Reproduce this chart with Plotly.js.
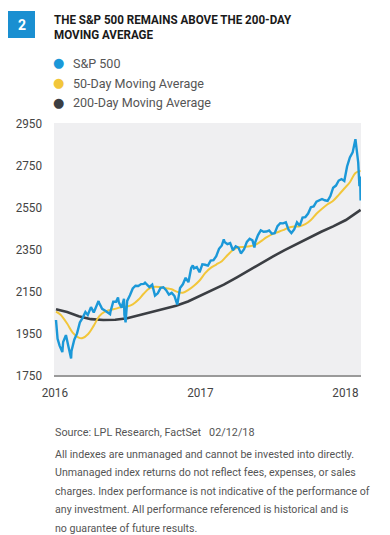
<!DOCTYPE html>
<html><head><meta charset="utf-8">
<script src="https://cdn.plot.ly/plotly-3.0.1.min.js"></script>
<style>html,body{margin:0;padding:0;background:#fff}#chart{width:390px;height:535px}</style>
</head><body><div id="chart"></div>
<script>
// S&P 500 (approximate closes)
const spxDates = ["2016-01-04","2016-01-08","2016-01-13","2016-01-15","2016-01-20","2016-01-22","2016-01-29","2016-02-05","2016-02-11","2016-02-12","2016-02-19","2016-02-26","2016-03-04","2016-03-11","2016-03-18","2016-03-24","2016-04-01","2016-04-08","2016-04-15","2016-04-20","2016-04-22","2016-04-29","2016-05-06","2016-05-13","2016-05-19","2016-05-20","2016-05-27","2016-06-03","2016-06-08","2016-06-10","2016-06-17","2016-06-23","2016-06-24","2016-06-27","2016-07-01","2016-07-08","2016-07-15","2016-07-22","2016-07-29","2016-08-05","2016-08-12","2016-08-15","2016-08-19","2016-08-26","2016-09-02","2016-09-09","2016-09-16","2016-09-23","2016-09-30","2016-10-07","2016-10-14","2016-10-21","2016-10-28","2016-11-04","2016-11-11","2016-11-18","2016-11-25","2016-12-02","2016-12-09","2016-12-13","2016-12-16","2016-12-23","2016-12-30","2017-01-06","2017-01-13","2017-01-20","2017-01-27","2017-02-03","2017-02-10","2017-02-17","2017-02-24","2017-03-01","2017-03-03","2017-03-10","2017-03-17","2017-03-24","2017-03-31","2017-04-07","2017-04-13","2017-04-21","2017-04-28","2017-05-05","2017-05-12","2017-05-17","2017-05-19","2017-05-26","2017-06-02","2017-06-09","2017-06-16","2017-06-23","2017-06-30","2017-07-07","2017-07-14","2017-07-21","2017-07-28","2017-08-04","2017-08-11","2017-08-18","2017-08-25","2017-09-01","2017-09-08","2017-09-15","2017-09-22","2017-09-29","2017-10-06","2017-10-13","2017-10-20","2017-10-27","2017-11-03","2017-11-10","2017-11-17","2017-11-24","2017-12-01","2017-12-08","2017-12-15","2017-12-22","2017-12-29","2018-01-05","2018-01-12","2018-01-19","2018-01-26","2018-02-02","2018-02-05","2018-02-06","2018-02-07","2018-02-08"];
const spxValues = [2012,1922,1890,1880,1859,1907,1940,1880,1829,1865,1918,1948,2000,2022,2050,2036,2073,2048,2081,2102,2092,2065,2057,2047,2040,2052,2099,2099,2119,2096,2071,2113,2037,2001,2103,2130,2162,2175,2174,2183,2184,2190,2184,2169,2180,2128,2139,2165,2168,2154,2133,2141,2126,2085,2164,2182,2213,2192,2260,2272,2258,2264,2239,2277,2275,2271,2295,2297,2316,2351,2367,2396,2383,2373,2378,2344,2363,2356,2329,2349,2384,2399,2391,2357,2382,2416,2439,2432,2433,2438,2423,2425,2459,2473,2472,2477,2441,2426,2443,2477,2461,2500,2502,2519,2549,2553,2575,2581,2588,2582,2579,2602,2642,2652,2676,2683,2674,2743,2786,2810,2873,2762,2649,2695,2682,2581];

// 50-Day Moving Average
const ma50Dates = ["2016-01-04","2016-01-15","2016-02-01","2016-02-15","2016-03-01","2016-03-11","2016-03-25","2016-04-08","2016-04-22","2016-05-06","2016-05-20","2016-06-03","2016-06-17","2016-07-01","2016-07-15","2016-07-29","2016-08-12","2016-08-26","2016-09-09","2016-09-23","2016-10-07","2016-10-21","2016-11-04","2016-11-18","2016-12-02","2016-12-16","2016-12-30","2017-01-13","2017-01-27","2017-02-10","2017-02-24","2017-03-10","2017-03-24","2017-04-07","2017-04-21","2017-05-05","2017-05-19","2017-06-02","2017-06-16","2017-06-30","2017-07-14","2017-07-28","2017-08-11","2017-08-25","2017-09-08","2017-09-22","2017-10-06","2017-10-20","2017-11-03","2017-11-17","2017-12-01","2017-12-15","2017-12-29","2018-01-12","2018-01-26","2018-02-08"];
const ma50Values = [2052,2038,1995,1952,1928,1926,1945,1985,2030,2052,2060,2066,2074,2076,2086,2108,2138,2162,2170,2168,2163,2158,2146,2142,2155,2175,2200,2235,2260,2276,2292,2320,2345,2358,2360,2363,2370,2386,2405,2420,2430,2440,2452,2457,2458,2468,2488,2518,2542,2563,2580,2608,2638,2668,2712,2722];

// 200-Day Moving Average
const ma200Dates = ["2016-01-04","2016-02-01","2016-03-01","2016-04-01","2016-05-02","2016-06-01","2016-07-01","2016-08-01","2016-09-01","2016-10-03","2016-11-01","2016-12-01","2017-01-03","2017-02-01","2017-03-01","2017-04-03","2017-05-01","2017-06-01","2017-07-03","2017-08-01","2017-09-01","2017-10-02","2017-11-01","2017-12-01","2018-01-02","2018-02-08"];
const ma200Values = [2063,2050,2030,2016,2012,2013,2020,2036,2052,2068,2080,2100,2128,2155,2180,2215,2247,2280,2315,2345,2375,2405,2432,2458,2488,2536];

const seriesNames = ["S&P 500","50-Day Moving Average","200-Day Moving Average"];
const yTicks = [1750,1950,2150,2350,2550,2750,2950];
const xTickVals = ["2016-01-01","2017-01-01","2018-01-01"];
const xTickText = ["2016","2017","2018"];

const C_BLUE="#1b98d8", C_YEL="#f2c63a", C_DARK="#3b3e43";
const FONT="Roboto, Arial, sans-serif";

const traces = [
 {x: ma200Dates, y: ma200Values, mode:"lines", name:seriesNames[2], line:{color:C_DARK,width:2.6}},
 {x: ma50Dates, y: ma50Values, mode:"lines", name:seriesNames[1], line:{color:C_YEL,width:2,shape:"spline"}},
 {x: spxDates, y: spxValues, mode:"lines", name:seriesNames[0], line:{color:C_BLUE,width:2.4}}
];

const L=54, T=123, W=307, H=252;
const px = v => (v - L)/W, py = v => (T+H - v)/H;

const ann = [];
const condenseMap = {};
function addAnn(o, f){ ann.push(o); if(f) condenseMap[ann.length-1]=f; }
addAnn({xref:"paper",yref:"paper",x:px(21.5),y:py(25),text:"<b>2</b>",showarrow:false,font:{family:FONT,size:14,color:"#fff"},xanchor:"center",yanchor:"middle"});
addAnn({xref:"paper",yref:"paper",x:px(52),y:py(19),xanchor:"left",yanchor:"middle",showarrow:false,
  text:"<b>THE S&P 500 REMAINS ABOVE THE 200-DAY</b>",font:{family:FONT,size:13.5,color:"#1a1a1a"}}, 0.86);
addAnn({xref:"paper",yref:"paper",x:px(52),y:py(34),xanchor:"left",yanchor:"middle",showarrow:false,
  text:"<b>MOVING AVERAGE</b>",font:{family:FONT,size:13.5,color:"#1a1a1a"}}, 0.86);
const legColors=[C_BLUE,C_YEL,C_DARK], legY=[63,83,102];
for(let i=0;i<3;i++){
  addAnn({xref:"paper",yref:"paper",x:px(58),y:py(legY[i]),text:"●",showarrow:false,xanchor:"center",yanchor:"middle",font:{family:"DejaVu Sans",size:13,color:legColors[i]}});
  addAnn({xref:"paper",yref:"paper",x:px(71),y:py(legY[i]),text:seriesNames[i],showarrow:false,xanchor:"left",yanchor:"middle",font:{family:FONT,size:13.5,color:"#555"}}, 0.93);
}
addAnn({xref:"paper",yref:"paper",x:px(53),y:py(432),text:"Source: LPL Research, FactSet   02/12/18",showarrow:false,xanchor:"left",yanchor:"middle",font:{family:FONT,size:11.5,color:"#555"}}, 0.94);
const disc=["All indexes are unmanaged and cannot be invested into directly.","Unmanaged index returns do not reflect fees, expenses, or sales","charges. Index performance is not indicative of the performance of","any investment. All performance referenced is historical and is","no guarantee of future results."];
const discY=[454,472.5,491,509.5,528];
for(let i=0;i<disc.length;i++){
  addAnn({xref:"paper",yref:"paper",x:px(53),y:py(discY[i]),text:disc[i],showarrow:false,xanchor:"left",yanchor:"middle",font:{family:FONT,size:11.3,color:"#555"}}, 0.94);
}

const layout = {
  width:390,height:535,
  margin:{l:L,t:T,r:390-L-W,b:535-T-H},
  paper_bgcolor:"#fff", plot_bgcolor:"#efeff1",
  showlegend:false,
  xaxis:{type:"date",range:["2015-12-30","2018-02-09"],tickvals:xTickVals,ticktext:xTickText,
    showgrid:false,zeroline:false,showline:true,linecolor:"#9a9a9a",linewidth:2,ticks:"",ticklabelstandoff:4,
    tickfont:{family:FONT,size:13,color:"#444"}},
  yaxis:{range:[1750,2950],tickvals:yTicks,ticktext:yTicks.map(String),showgrid:false,zeroline:false,showline:false,ticks:"",ticklabelstandoff:11,
    tickfont:{family:FONT,size:13,color:"#444"}},
  shapes:[{type:"rect",xref:"paper",yref:"paper",x0:px(8),x1:px(35),y0:py(38),y1:py(11),fillcolor:"#1a8fd1",line:{width:0}}],
  annotations:ann
};
// emulate a condensed typeface: squeeze glyphs, keeping the given edge fixed
function condenseText(t,f,keep){
  const b0=t.getBBox();
  t.setAttribute("textLength", (t.getComputedTextLength()*f).toFixed(2));
  t.setAttribute("lengthAdjust","spacingAndGlyphs");
  const b1=t.getBBox();
  let dx=0;
  if(keep==="left") dx=b0.x-b1.x;
  else if(keep==="right") dx=(b0.x+b0.width)-(b1.x+b1.width);
  else dx=(b0.x+b0.width/2)-(b1.x+b1.width/2);
  if(Math.abs(dx)>0.01){
    const nodes=[t, ...t.querySelectorAll("tspan[x]")];
    nodes.forEach(n=>{ if(n.hasAttribute("x")) n.setAttribute("x", parseFloat(n.getAttribute("x"))+dx); });
  }
  return b0.width-b1.width;
}
Plotly.newPlot("chart",traces,layout,{displayModeBar:false,staticPlot:true}).then(gd=>{
  Object.keys(condenseMap).forEach(i=>{
    const g=gd.querySelector('g.annotation[data-index="'+i+'"]');
    if(!g) return;
    const t=g.querySelector("text.annotation-text");
    if(!t) return;
    const shrink=condenseText(t,condenseMap[i],"left");
    g.querySelectorAll("rect").forEach(r=>{
      const w=parseFloat(r.getAttribute("width"));
      if(!isNaN(w)) r.setAttribute("width", Math.max(0,w-shrink));
    });
  });
  gd.querySelectorAll("g.xtick text").forEach(t=>condenseText(t,0.9,"center"));
  gd.querySelectorAll("g.ytick text").forEach(t=>condenseText(t,0.9,"right"));
});
</script></body></html>
